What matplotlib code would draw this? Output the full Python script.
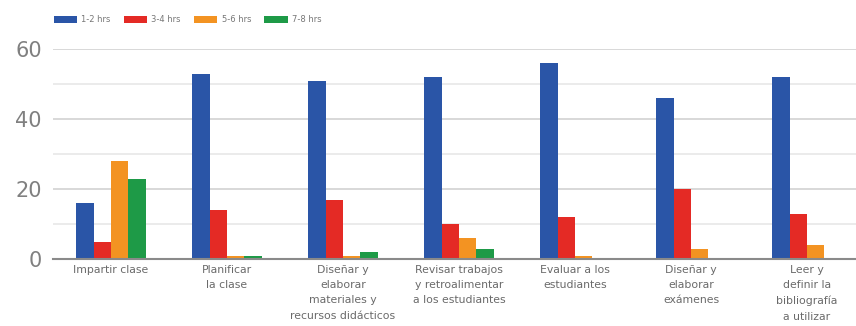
import matplotlib
matplotlib.use("Agg")
import matplotlib.pyplot as plt
from matplotlib.patches import Patch
import numpy as np

# Hours per week dedicated to each teaching activity (number of responses)
categories = [
    "Impartir clase",
    "Planificar\nla clase",
    "Diseñar y\nelaborar\nmateriales y\nrecursos didácticos",
    "Revisar trabajos\ny retroalimentar\na los estudiantes",
    "Evaluar a los\nestudiantes",
    "Diseñar y\nelaborar\nexámenes",
    "Leer y\ndefinir la\nbibliografía\na utilizar",
]
series_names = ["1-2 hrs", "3-4 hrs", "5-6 hrs", "7-8 hrs"]
hrs_1_2 = [16, 53, 51, 52, 56, 46, 52]
hrs_3_4 = [5, 14, 17, 10, 12, 20, 13]
hrs_5_6 = [28, 1, 1, 6, 1, 3, 4]
hrs_7_8 = [23, 1, 2, 3, 0, 0, 0]
y_ticks = [0, 20, 40, 60]

colors = ["#2a55a7", "#e42a25", "#f39322", "#1e9a47"]
series = [hrs_1_2, hrs_3_4, hrs_5_6, hrs_7_8]

W, H = 856, 326
fig = plt.figure(figsize=(W / 100, H / 100), dpi=100)
ax = fig.add_axes([53 / W, 1 - 259 / H, (W - 53) / W, (259 - 49) / H])

x = np.arange(len(categories))
bw = 0.15
for i, (vals, col) in enumerate(zip(series, colors)):
    ax.bar(x + (i - 1.5) * bw, vals, width=bw, color=col, zorder=3)

ax.set_ylim(0, 60)
ax.set_xlim(-0.5, -0.5 + (W - 53) / 116)
ax.set_yticks(y_ticks)
ax.set_yticks([10, 30, 50], minor=True)
ax.grid(axis="y", which="major", color="#d5d5d5", lw=1.3, zorder=0)
ax.grid(axis="y", which="minor", color="#e8e8e8", lw=1.2, zorder=0)
ax.tick_params(axis="y", which="both", length=0, pad=8, labelsize=15, labelcolor="#808080")
ax.tick_params(axis="y", which="minor", labelleft=False)
ax.set_xticks(x)
ax.set_xticklabels(categories, fontsize=7.8, color="#6a6a6a", linespacing=1.68)
ax.tick_params(axis="x", length=0, pad=4)

for s in ["top", "right", "left"]:
    ax.spines[s].set_visible(False)
ax.spines["bottom"].set_color("#8a8a8a")
ax.spines["bottom"].set_linewidth(1.5)
ax.spines["bottom"].set_zorder(4)

handles = [Patch(facecolor=c, edgecolor="none") for c in colors]
fig.legend(handles, series_names, loc="center left", bbox_to_anchor=(46 / W, 1 - 20 / H),
           ncol=4, frameon=False, fontsize=6, handlelength=2.8, handleheight=1.0,
           handletextpad=0.5, columnspacing=1.6, labelcolor="#777777")

fig.savefig("out.png", dpi=100)
